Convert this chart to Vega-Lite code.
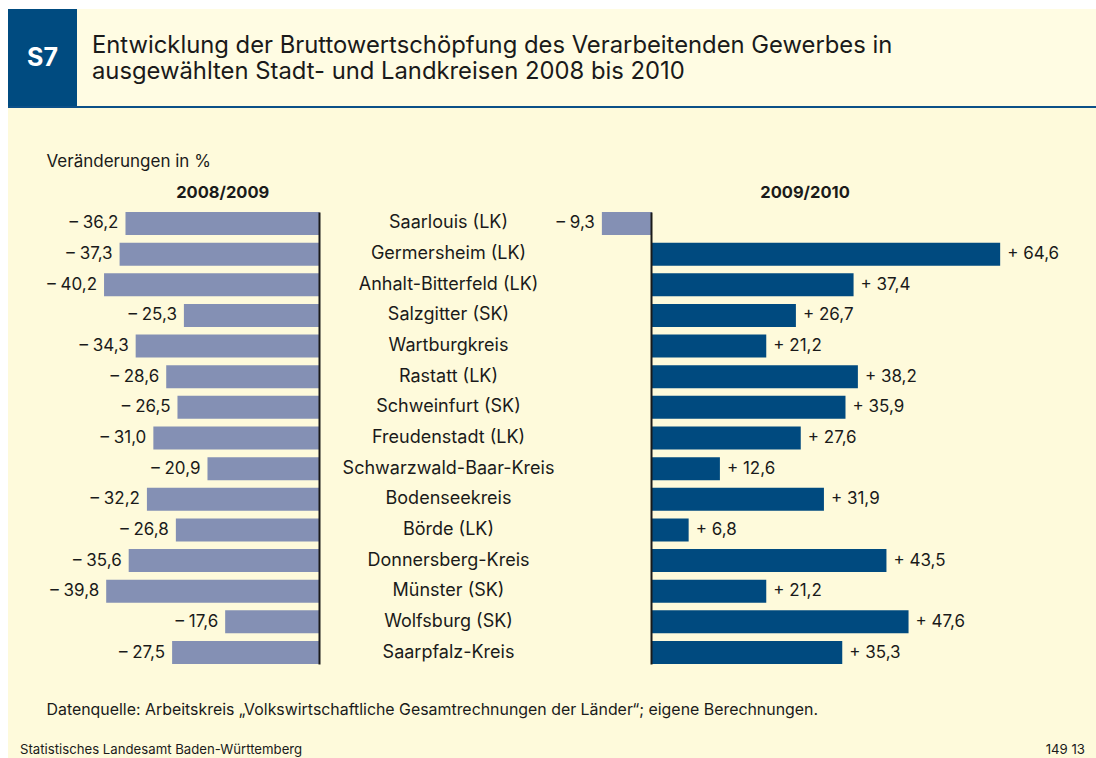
{
  "$schema": "https://vega.github.io/schema/vega-lite/v6.json",
  "background": "#ffffff",
  "padding": {"left": 8, "top": 9, "right": 0, "bottom": 0},
  "spacing": 0,
  "config": {
    "font": "Inter",
    "view": {"stroke": null},
    "concat": {"spacing": 0},
    "title": {"color": "#1a1a1a", "fontWeight": "normal"}
  },
  "datasets": {
    "rows": [
      {"name": "Saarlouis (LK)", "v1": -36.2, "v2": -9.3, "t1": "– 36,2", "tp": "", "tn": "– 9,3"},
      {"name": "Germersheim (LK)", "v1": -37.3, "v2": 64.6, "t1": "– 37,3", "tp": "+ 64,6", "tn": ""},
      {"name": "Anhalt-Bitterfeld (LK)", "v1": -40.2, "v2": 37.4, "t1": "– 40,2", "tp": "+ 37,4", "tn": ""},
      {"name": "Salzgitter (SK)", "v1": -25.3, "v2": 26.7, "t1": "– 25,3", "tp": "+ 26,7", "tn": ""},
      {"name": "Wartburgkreis", "v1": -34.3, "v2": 21.2, "t1": "– 34,3", "tp": "+ 21,2", "tn": ""},
      {"name": "Rastatt (LK)", "v1": -28.6, "v2": 38.2, "t1": "– 28,6", "tp": "+ 38,2", "tn": ""},
      {"name": "Schweinfurt (SK)", "v1": -26.5, "v2": 35.9, "t1": "– 26,5", "tp": "+ 35,9", "tn": ""},
      {"name": "Freudenstadt (LK)", "v1": -31.0, "v2": 27.6, "t1": "– 31,0", "tp": "+ 27,6", "tn": ""},
      {"name": "Schwarzwald-Baar-Kreis", "v1": -20.9, "v2": 12.6, "t1": "– 20,9", "tp": "+ 12,6", "tn": ""},
      {"name": "Bodenseekreis", "v1": -32.2, "v2": 31.9, "t1": "– 32,2", "tp": "+ 31,9", "tn": ""},
      {"name": "Börde (LK)", "v1": -26.8, "v2": 6.8, "t1": "– 26,8", "tp": "+ 6,8", "tn": ""},
      {"name": "Donnersberg-Kreis", "v1": -35.6, "v2": 43.5, "t1": "– 35,6", "tp": "+ 43,5", "tn": ""},
      {"name": "Münster (SK)", "v1": -39.8, "v2": 21.2, "t1": "– 39,8", "tp": "+ 21,2", "tn": ""},
      {"name": "Wolfsburg (SK)", "v1": -17.6, "v2": 47.6, "t1": "– 17,6", "tp": "+ 47,6", "tn": ""},
      {"name": "Saarpfalz-Kreis", "v1": -27.5, "v2": 35.3, "t1": "– 27,5", "tp": "+ 35,3", "tn": ""}
    ]
  },
  "vconcat": [
    {
      "bounds": "flush",
      "spacing": 0,
      "hconcat": [
        {
          "width": 69,
          "height": 97,
          "view": {"fill": "#004b80", "stroke": null},
          "data": {"values": [{"label": "S7"}]},
          "mark": {"type": "text", "fontSize": 25, "fontWeight": "bold", "color": "#ffffff", "align": "center", "baseline": "middle"},
          "encoding": {"text": {"field": "label"}}
        },
        {
          "width": 1019,
          "height": 97,
          "view": {"fill": "#fffce3", "stroke": null},
          "title": {
            "text": ["Entwicklung der Bruttowertschöpfung des Verarbeitenden Gewerbes in", "ausgewählten Stadt- und Landkreisen 2008 bis 2010"],
            "orient": "top",
            "anchor": "start",
            "frame": "group",
            "offset": -93.3,
            "dx": 15,
            "fontSize": 23.8,
            "lineHeight": 26,
            "baseline": "alphabetic"
          },
          "data": {"values": []},
          "mark": "point"
        }
      ]
    },
    {
      "width": 1088,
      "height": 2,
      "view": {"fill": "#0c5088", "stroke": null},
      "data": {"values": []},
      "mark": "point"
    },
    {
      "width": 1088,
      "height": 627,
      "view": {"fill": "#fefadb", "stroke": null},
      "data": {"name": "rows"},
      "layer": [
        {
          "encoding": {
            "y": {
              "field": "name", "type": "nominal", "sort": null,
              "scale": {"range": [104, 556], "paddingInner": 0.25, "paddingOuter": 0},
              "axis": {
                "orient": "left", "offset": -311, "labels": false, "ticks": false, "grid": false,
                "domain": true, "domainColor": "#1a1a1a", "domainWidth": 2, "zindex": 1,
                "title": "Veränderungen in %", "titleX": -273, "titleY": 58, "titleAngle": 0,
                "titleAlign": "left", "titleBaseline": "alphabetic", "titleFontSize": 17,
                "titleFontWeight": "normal", "titleColor": "#1a1a1a"
              }
            },
            "x": {
              "field": "v1", "type": "quantitative",
              "scale": {"domain": [-36.29, 0], "range": [117, 311.5], "nice": false, "zero": false},
              "axis": {
                "orient": "top", "labels": false, "ticks": false, "domain": false, "grid": false,
                "title": "2008/2009", "titleY": 89, "titleBaseline": "alphabetic",
                "titleFontWeight": "bold", "titleFontSize": 16.5, "titleColor": "#1a1a1a"
              }
            }
          },
          "layer": [
            {
              "mark": {"type": "bar", "color": "#8490b4"},
              "encoding": {"x2": {"datum": 0}}
            },
            {
              "mark": {"type": "text", "align": "right", "baseline": "middle", "dx": -7, "fontSize": 17, "color": "#1a1a1a"},
              "encoding": {"text": {"field": "t1"}}
            }
          ]
        },
        {
          "encoding": {
            "y": {
              "field": "name", "type": "nominal", "sort": null,
              "scale": {"range": [104, 556], "paddingInner": 0.25, "paddingOuter": 0},
              "axis": {
                "orient": "left", "offset": -643, "ticks": false, "tickSize": 0, "grid": false,
                "labelPadding": 203, "labelAlign": "center", "labelLimit": 0, "labelFontSize": 18,
                "labelColor": "#1a1a1a",
                "domain": true, "domainColor": "#1a1a1a", "domainWidth": 2, "zindex": 1,
                "title": "Datenquelle: Arbeitskreis „Volkswirtschaftliche Gesamtrechnungen der Länder“; eigene Berechnungen.",
                "titleX": -605, "titleY": 606.5, "titleAngle": 0,
                "titleAlign": "left", "titleBaseline": "alphabetic", "titleFontSize": 15.9,
                "titleFontWeight": "normal", "titleColor": "#1a1a1a"
              }
            },
            "x": {
              "field": "v2", "type": "quantitative",
              "scale": {"domain": [0, 56.59], "range": [644, 949], "nice": false, "zero": false},
              "axis": {
                "orient": "top", "labels": false, "ticks": false, "domain": false, "grid": false,
                "title": "2009/2010", "titleY": 89, "titleBaseline": "alphabetic",
                "titleFontWeight": "bold", "titleFontSize": 16.5, "titleColor": "#1a1a1a"
              }
            }
          },
          "layer": [
            {
              "mark": {"type": "bar"},
              "encoding": {
                "x2": {"datum": 0},
                "color": {"condition": {"test": "datum.v2 < 0", "value": "#8490b4"}, "value": "#004a7f"}
              }
            },
            {
              "mark": {"type": "text", "align": "left", "baseline": "middle", "dx": 7, "fontSize": 17, "color": "#1a1a1a"},
              "encoding": {"text": {"field": "tp"}}
            },
            {
              "mark": {"type": "text", "align": "right", "baseline": "middle", "dx": -7, "fontSize": 17, "color": "#1a1a1a"},
              "encoding": {"text": {"field": "tn"}}
            }
          ]
        }
      ],
      "resolve": {"scale": {"x": "independent", "y": "independent"}, "axis": {"x": "independent", "y": "independent"}}
    },
    {
      "bounds": "flush",
      "spacing": 0,
      "hconcat": [
        {
          "width": 544,
          "height": 23,
          "view": {"fill": "#fefadb", "stroke": null},
          "title": {
            "text": "Statistisches Landesamt Baden-Württemberg",
            "orient": "top", "anchor": "start", "frame": "group",
            "offset": -31.7, "dx": 12, "fontSize": 13.2, "baseline": "alphabetic"
          },
          "data": {"values": []},
          "mark": "point"
        },
        {
          "width": 544,
          "height": 23,
          "view": {"fill": "#fefadb", "stroke": null},
          "title": {
            "text": "149 13",
            "orient": "top", "anchor": "end", "frame": "group",
            "offset": -31.7, "dx": -11, "fontSize": 13.2, "baseline": "alphabetic"
          },
          "data": {"values": []},
          "mark": "point"
        }
      ]
    }
  ]
}
